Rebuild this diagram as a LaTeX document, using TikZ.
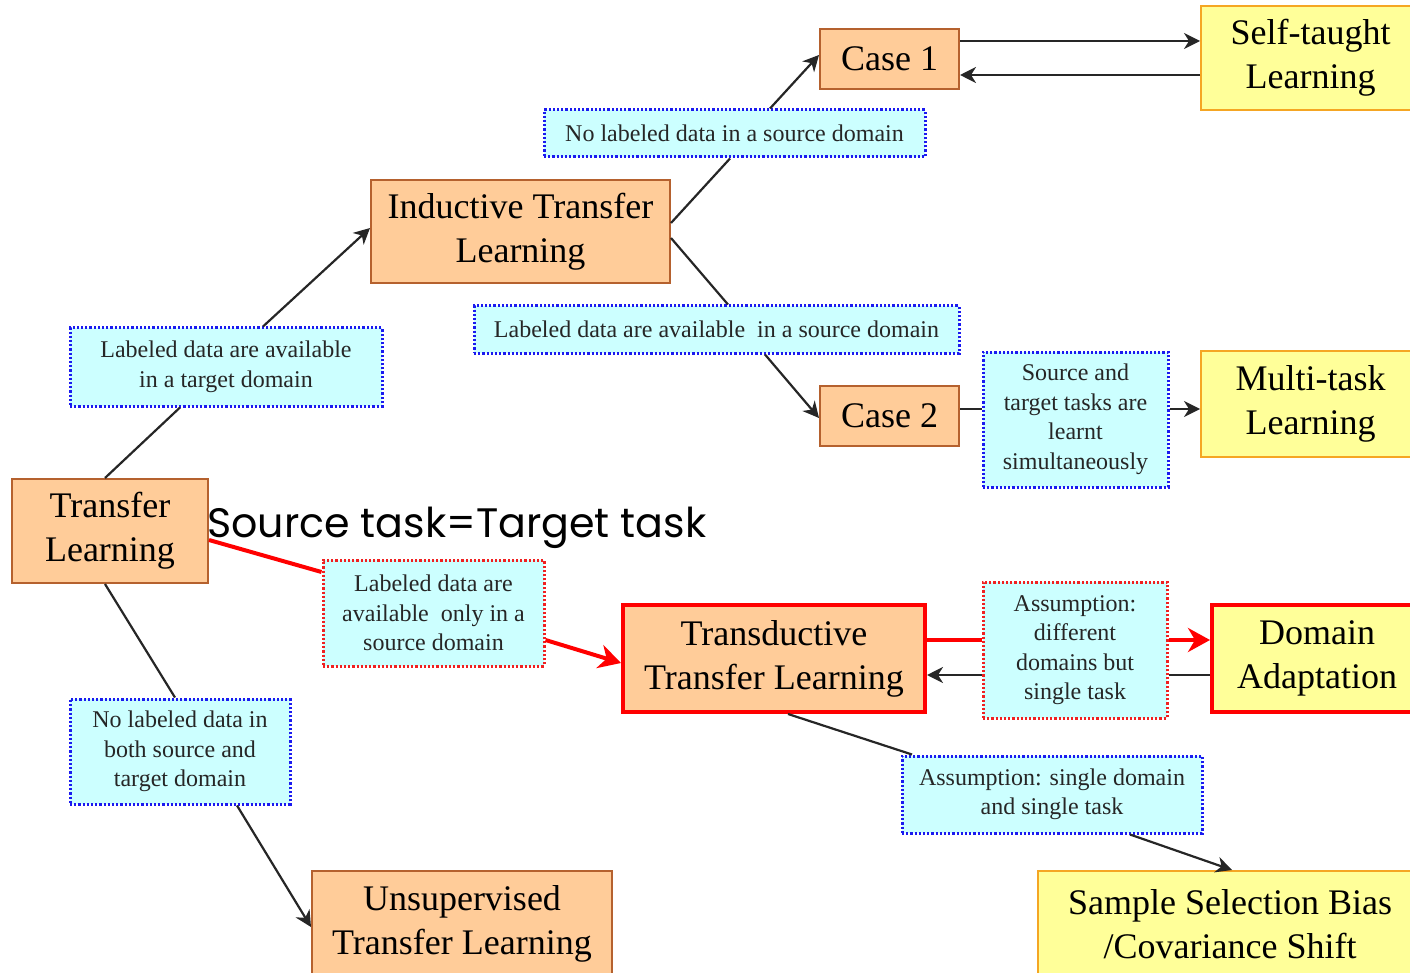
\documentclass[tikz,border=0pt]{standalone}
\usepackage{fontspec}
\setmainfont{Liberation Serif}
\newfontfamily\geofont{Poppins}
\usetikzlibrary{arrows.meta}

\definecolor{boxfill}{HTML}{FFCC99}
\definecolor{boxedge}{HTML}{B5612E}
\definecolor{goalfill}{HTML}{FFFF99}
\definecolor{goaledge}{HTML}{F5A623}
\definecolor{notefill}{HTML}{CCFFFF}
\definecolor{noteblue}{HTML}{1A1AF0}
\definecolor{notered}{HTML}{F02020}
\definecolor{hot}{HTML}{FF0000}
\definecolor{ink}{HTML}{262626}

\tikzset{
  size/.style 2 args={minimum width=#1pt, minimum height=#2pt},
  method/.style={draw=boxedge, fill=boxfill, line width=2pt, inner sep=0pt,
    align=center, font=\fontsize{36}{44}\selectfont},
  goal/.style={method, draw=goaledge, fill=goalfill},
  hotbox/.style={draw=hot, line width=4pt},
  note/.style={draw=noteblue, fill=notefill, line width=3pt,
    dash pattern=on 2.2pt off 2pt, inner sep=0pt, align=center,
    font=\fontsize{24}{29.5}\selectfont, text=ink},
  rednote/.style={note, draw=notered},
  link/.style={draw=ink, line width=2.2pt},
  arrowlink/.style={link, -{Stealth[length=16pt,width=16pt,inset=5pt]}},
  hotlink/.style={draw=hot, line width=4pt},
  hotarrow/.style={hotlink, -{Stealth[length=22pt,width=24pt,inset=7pt]}},
}

\begin{document}
\begin{tikzpicture}[x=1pt, y=-1pt]
\useasboundingbox (0,0) rectangle (1410,973);
\clip (0,0) rectangle (1410,973);

% main approaches
\node[method, size={196}{104}] (tl)  at (110,531)   {Transfer\\Learning};
\node[method, size={299}{103}] (itl) at (520.5,231.5) {Inductive Transfer\\Learning};
\node[method, size={139}{60}]  (c1)  at (889.5,59)  {Case 1};
\node[method, size={139}{60}]  (c2)  at (889.5,416) {Case 2};
\node[method, hotbox, size={302}{107}] (ttl) at (774,658.5) {Transductive\\Transfer Learning};
\node[method, size={300}{106}] (utl) at (462,924)   {Unsupervised\\Transfer Learning};

% resulting settings
\node[goal, size={219}{104}] (stl) at (1310.5,58)  {Self-taught\\Learning};
\node[goal, size={219}{106}] (mtl) at (1310.5,404) {Multi-task\\Learning};
\node[goal, hotbox, size={210}{107}] (da) at (1317,658.5) {Domain\\Adaptation};
\node[goal, size={384}{106}] (ssb) at (1230,924) {Sample Selection Bias\\/Covariance Shift};

% conditions
\node[note, size={312}{78}]  (l1) at (226,367)     {Labeled data are available\\in a target domain};
\node[note, size={381}{47}]  (l2) at (734.5,133.5) {No labeled data in a source domain};
\node[note, size={485}{47}]  (l3) at (716.5,329.5) {Labeled data are available\ \ in a source domain};
\node[note, size={185}{135}] (l4) at (1075.5,419.5) {Source and\\target tasks are\\learnt\\simultaneously};
\node[rednote, size={221}{106}] (l5) at (433.5,613) {Labeled data are\\available\ \ only in a\\source domain};
\node[rednote, size={184}{136}] (l6) at (1075,650)  {Assumption:\\different\\domains but\\single task};
\node[note, size={220}{105}] (l7) at (180,751.5)   {No labeled data in\\both source and\\target domain};
\node[note, size={300}{77}]  (l8) at (1052,794.5)  {Assumption: single domain\\and single task};

% caption beside the root
\node[anchor=base west, inner sep=0pt, font=\geofont\fontsize{40}{48}\selectfont] (eq) at (207,537)
  {\resizebox{499pt}{!}{Source task=Target task}};

% inductive branch
\draw[link] ([xshift=-5pt]tl.north) -- ([xshift=-46pt]l1.south);
\draw[arrowlink] ([xshift=37pt]l1.north) -- ([yshift=3.5pt]itl.west);
\draw[link] ([yshift=8.5pt]itl.east) -- ([xshift=-4.5pt]l2.south);
\draw[arrowlink] ([xshift=35.5pt]l2.north) -- ([yshift=4pt]c1.west);
\draw[link] ([yshift=-6.5pt]itl.east) -- ([xshift=11.5pt]l3.north);
\draw[arrowlink] ([xshift=48.5pt]l3.south) -- ([yshift=-2pt]c2.west);

\coordinate (c1a) at ([yshift=18pt]c1.east);
\coordinate (c1b) at ([yshift=-16pt]c1.east);
\draw[arrowlink] (c1a) -- (c1a -| stl.west);
\draw[arrowlink] (c1b -| stl.west) -- (c1b);

\coordinate (c2a) at ([yshift=7pt]c2.east);
\draw[link] (c2a) -- (c2a -| l4.west);
\draw[arrowlink] (c2a -| l4.east) -- (c2a -| mtl.west);

% transductive branch
\draw[hotlink] ([yshift=-9pt]tl.east) -- ([yshift=41pt]l5.west);
\draw[hotarrow] ([yshift=-27pt]l5.east) -- ([yshift=-4.5pt]ttl.west);

\coordinate (ta) at ([yshift=18.5pt]ttl.east);
\coordinate (tb) at ([yshift=-16.5pt]ttl.east);
\draw[hotlink] (ta) -- (ta -| l6.west);
\draw[hotarrow] (ta -| l6.east) -- (ta -| da.west);
\draw[link] (tb -| da.west) -- (tb -| l6.east);
\draw[arrowlink] (tb -| l6.west) -- (tb);

\draw[link] ([xshift=14pt]ttl.south) -- ([xshift=-140pt]l8.north);
\draw[arrowlink] ([xshift=78pt]l8.south) -- ([xshift=2pt]ssb.north);

% unsupervised branch
\draw[link] ([xshift=-5pt]tl.south) -- ([xshift=-5pt]l7.north);
\draw[arrowlink] ([xshift=57pt]l7.south) -- ([yshift=-3pt]utl.west);
\end{tikzpicture}
\end{document}
